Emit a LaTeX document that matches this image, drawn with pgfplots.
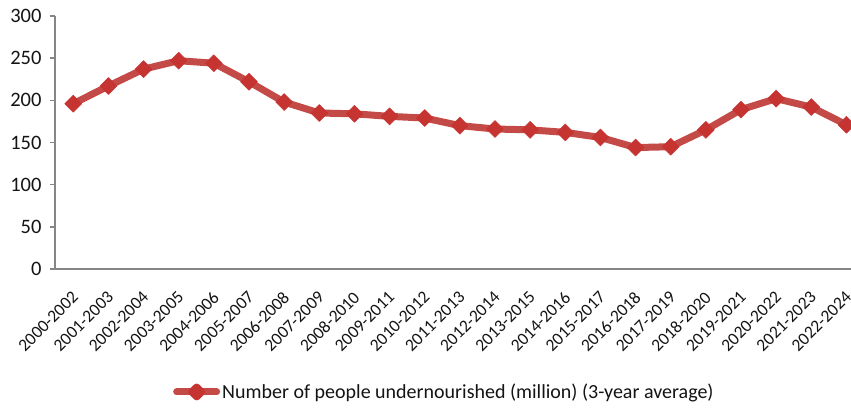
\documentclass[border=0pt]{standalone}
\usepackage{fontspec}
\setmainfont{Carlito}
\usepackage{pgfplots}
\pgfplotsset{compat=1.18}
\definecolor{linered}{RGB}{196,74,72}
\definecolor{markred}{RGB}{198,52,50}
\definecolor{axgray}{RGB}{134,134,134}
\definecolor{txt}{RGB}{20,20,20}
\begin{document}
\begin{tikzpicture}
\path[use as bounding box] (0,0) rectangle (851pt,408pt);
\begin{axis}[
  at={(55pt,139pt)}, anchor=south west,
  scale only axis, width=796pt, height=253pt,
  xmin=-0.52, xmax=22.13, ymin=0, ymax=300,
  axis x line=bottom, axis y line=left,
  axis line style={-, draw=axgray, line width=1.5pt},
  ytick={0,50,...,300},
  xtick={0,...,22},
  xticklabels={2000-2002,2001-2003,2002-2004,2003-2005,2004-2006,2005-2007,2006-2008,2007-2009,2008-2010,2009-2011,2010-2012,2011-2013,2012-2014,2013-2015,2014-2016,2015-2017,2016-2018,2017-2019,2018-2020,2019-2021,2020-2022,2021-2023,2022-2024},
  tick align=outside,
  major tick length=5pt,
  ytick style={draw=axgray, line width=1.5pt},
  xtick style={draw=none},
  /pgf/number format/assume math mode=true,
  yticklabel style={font=\fontsize{20.5}{23}\selectfont, text=txt, xshift=-5pt},
  xticklabel style={font=\fontsize{17.5}{20}\selectfont, text=txt, rotate=45, anchor=north east, inner sep=0pt, xshift=-3pt},
  xticklabel shift=14pt,
  legend style={draw=none, at={(0.1482,-0.486)}, anchor=west, font=\fontsize{20}{23}\selectfont, text=txt, inner sep=0pt},
  legend cell align=left,
  legend image code/.code={
    \draw[linered, line width=7pt, line cap=round] (0pt,0pt) -- (40pt,0pt);
    \fill[markred, rotate around={45:(20pt,0pt)}] (16.5pt,-3.5pt) rectangle (23.5pt,3.5pt);
  },
]
\addplot[color=linered, line width=7pt, line join=round,
  mark=square*, mark size=6pt,
  mark options={rotate=45, fill=markred, draw=markred, line width=0.5pt}]
  coordinates {
  (0,196) (1,217) (2,237) (3,247) (4,244) (5,222) (6,198) (7,185)
  (8,184) (9,181) (10,179) (11,170) (12,166) (13,165) (14,162) (15,156)
  (16,144) (17,145) (18,165) (19,189) (20,202) (21,192) (22,171)
  };
\addlegendentry{Number of people undernourished (million) (3-year average)}
\end{axis}
\end{tikzpicture}
\end{document}
